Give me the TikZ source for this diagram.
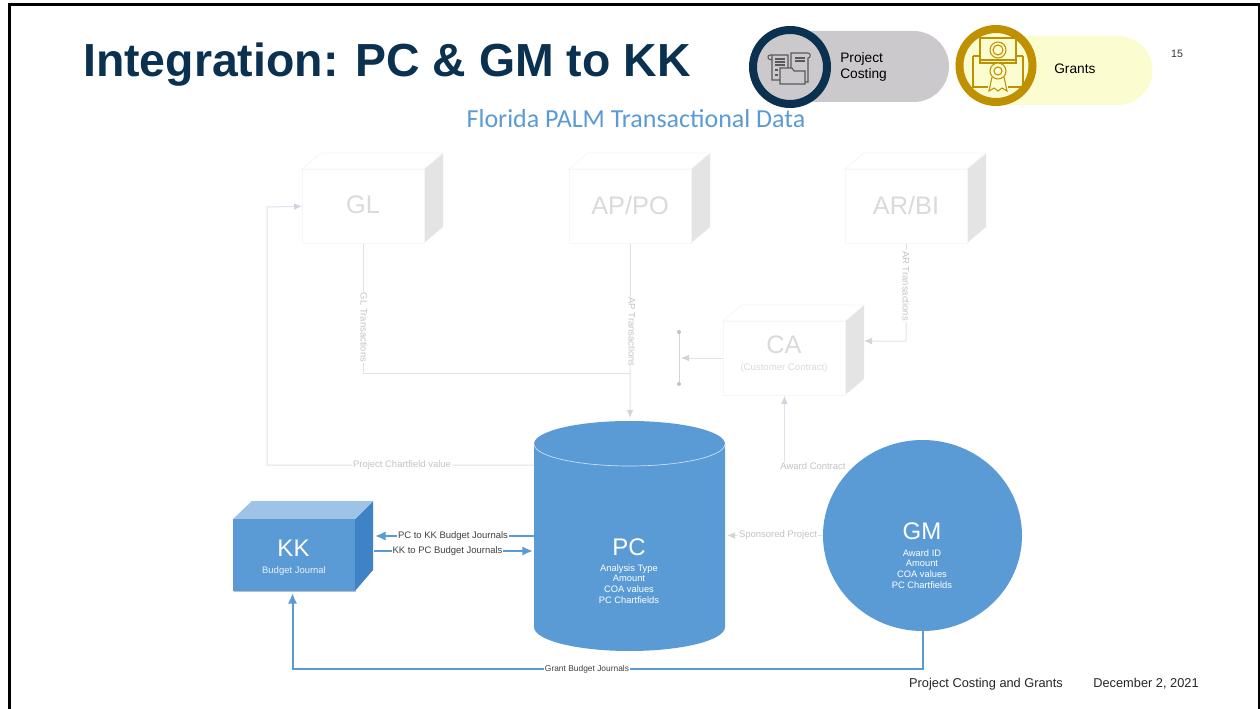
\documentclass[tikz,border=0pt]{standalone}
\usepackage{fontspec}
\setmainfont{Liberation Sans}
\newfontfamily\carl{Carlito}
\usetikzlibrary{arrows.meta,shapes.geometric}
\definecolor{blu}{HTML}{5B9BD5}
\definecolor{bludk}{HTML}{3F83C6}
\definecolor{blult}{HTML}{9DC3E6}
\definecolor{navy}{HTML}{0A3150}
\definecolor{gold}{HTML}{BF9000}
\definecolor{pill}{HTML}{CBC9CB}
\definecolor{pally}{HTML}{FBFCD0}
\definecolor{faintln}{HTML}{DDE3EE}
\definecolor{fainttx}{HTML}{DADADA}
\definecolor{sidegr}{HTML}{E4E4E4}
\definecolor{boxln}{HTML}{F6F6F6}
\definecolor{faintlb}{HTML}{D0D4DC}
\tikzset{
 x=0.75pt,y=-0.75pt,
 faint/.style={draw=faintln,line width=0.75pt},
 faintarr/.style={faint,-{Latex[length=6pt,width=5pt,color=faintlb]}},
 bluearr/.style={draw=blu,line width=1.5pt,-{Latex[length=8pt,width=7pt]}},
 lab/.style={font=\fontsize{7.1pt}{8pt}\selectfont,text=fainttx!90!black,fill=white,inner sep=0.6pt},
 darklab/.style={font=\fontsize{7.1pt}{8pt}\selectfont,text=black!75,fill=white,inner sep=0.6pt},
 wsmall/.style={font=\fontsize{7pt}{8.1pt}\selectfont,text=white,align=center,inner sep=0},
 boxtxt/.style={font=\fontsize{19pt}{21pt}\selectfont,text=fainttx,inner sep=0},
}
% #1 name, #2 left, #3 top, #4 right, #5 bottom (front face), #6 depth
\newcommand{\ghostbox}[6]{%
 \fill[sidegr] (#4,#3) -- (#4+#6,#3-16) -- (#4+#6,#5-16) -- (#4,#5) -- cycle;
 \draw[boxln,line width=0.6pt,fill=white] (#2,#3) -- (#2+#6,#3-16) -- (#4+#6,#3-16) -- (#4,#3) -- cycle;
 \node[draw=boxln,line width=0.6pt,fill=white,minimum width=#4*0.75pt-#2*0.75pt,minimum height=#5*0.75pt-#3*0.75pt,inner sep=0,anchor=north west] (#1) at (#2,#3) {};
}
\begin{document}
\begin{tikzpicture}
\useasboundingbox (0,0) rectangle (1260,709);
\fill[white] (0,0) rectangle (1260,709);
\fill[black] (8,3) rectangle (1260,6.5);
\fill[black] (8,3) rectangle (11,709);
\fill[black] (1258,3) rectangle (1260,709);
% title
\node[anchor=west,inner sep=0,text=navy,font=\bfseries\fontsize{34.8pt}{38pt}\selectfont] (title) at (83,65) {Integration: PC \& GM to KK};
% pills
\fill[pill] (790,31) -- (913.5,31) arc[start angle=90,end angle=-90,radius=26.625pt] -- (790,102) -- cycle;
\node[draw=navy,line width=6pt,fill=pill,circle,minimum size=55.5pt,inner sep=0] (pcc) at (790,67) {};
\node[anchor=west,align=left,inner sep=0,font=\fontsize{10.3pt}{12pt}\selectfont] (pct) at (840,67) {Project\\Costing};
\fill[pally] (1000,36) -- (1118,36) arc[start angle=90,end angle=-90,radius=25.875pt] -- (1000,105) -- cycle;
\node[draw=gold,line width=6pt,fill=pally,circle,minimum size=54.75pt,inner sep=0] (gmc) at (996,65.5) {};
\node[anchor=west,inner sep=0,font=\fontsize{10.3pt}{12pt}\selectfont] (grt) at (1054,68.5) {Grants};
\node[inner sep=0,font=\fontsize{8pt}{10pt}\selectfont,text=black!80] (num) at (1177,54) {15};
% PC icon
\begin{scope}[draw=black!65,line width=0.8pt]
\draw (772,55) -- (772,80) -- (780,80) (772,55) -- (788,55) -- (788,68) (772,55) -- (770,55) .. controls (767,55) and (767,60) .. (772,60);
\draw (791,68) -- (791,53) -- (808,53) .. controls (811,53) and (811,58) .. (808,58) -- (808,82) -- (805,82);
\draw[fill=pill] (780,68) -- (792,68) -- (794,71) -- (805,71) -- (805,84) -- (780,84) -- cycle;
\draw (775,59) -- (785,59) (775,62) -- (785,62) (775,65) -- (785,65) (775,70) -- (778,70) (775,75) -- (778,75);
\draw (795,58) -- (805,58) (795,61) -- (805,61);
\end{scope}
% Grants icon
\begin{scope}[draw=gold,line width=0.8pt]
\draw (980,38) rectangle (1016,63);
\draw (998,50) circle (8);
\draw (998,50) circle (5);
\draw (973,56) -- (973,87) -- (988,87) (1023,56) -- (1023,87) -- (1008,87);
\draw (973,56) -- (980,56) (1016,56) -- (1023,56);
\draw (980,60) -- (1016,60);
\draw[fill=pally] (998,71) circle (8);
\draw (998,71) circle (4);
\draw (992,77) -- (989,91) -- (994,88) -- (998,91) -- (1002,88) -- (1007,91) -- (1004,77);
\end{scope}
% subtitle
\node[inner sep=0,text=blu,font=\carl\fontsize{19.5pt}{22pt}\selectfont] (sub) at (636,119) {Florida PALM Transactional Data};
% ghost boxes
\ghostbox{gl}{302}{169}{424}{243}{19}
\node[boxtxt] at (363,205) {GL};
\ghostbox{ap}{569}{169}{691}{243}{19}
\node[boxtxt] at (630,205) {AP/PO};
\ghostbox{ar}{845}{169}{967}{243}{19}
\node[boxtxt] at (906,205) {AR/BI};
\ghostbox{ca}{723}{321}{845}{395}{19}
\node[boxtxt] at (784,345) {CA};
\node[inner sep=0,font=\fontsize{7.2pt}{8pt}\selectfont,text=fainttx] at (784,368) {(Customer Contract)};
% PC cylinder
\fill[blu] (534,444) arc[start angle=180,end angle=0,x radius=71.625pt,y radius=17.25pt] -- (725,627) arc[start angle=0,end angle=-180,x radius=71.625pt,y radius=18pt] -- cycle;
\draw[white!70!blu,line width=0.5pt] (534,444) arc[start angle=180,end angle=360,x radius=71.625pt,y radius=16.5pt];
\node[inner sep=0,text=white,font=\fontsize{18pt}{20pt}\selectfont] (pcn) at (629,547) {PC};
\node[wsmall] (pcd) at (629,584) {Analysis Type\\Amount\\COA values\\PC Chartfields};
% GM ellipse
\node[ellipse,fill=blu,minimum width=149.25pt,minimum height=143.25pt,inner sep=0] (gm) at (922.5,535.5) {};
\node[inner sep=0,text=white,font=\fontsize{18pt}{20pt}\selectfont] (gmn) at (922,531) {GM};
\node[wsmall] (gmd) at (922,569) {Award ID\\Amount\\COA values\\PC Chartfields};
% KK
\fill[black!25] (234,521) rectangle (356,592);
\fill[bludk] (355,519) -- (373,501) -- (373,570) -- (355,591) -- cycle;
\fill[blult] (233,519) -- (252,501) -- (373,501) -- (355,519) -- cycle;
\node[fill=blu,minimum width=91.5pt,minimum height=54pt,inner sep=0,anchor=north west] (kk) at (233,519) {};
\node[inner sep=0,text=white,font=\fontsize{18pt}{20pt}\selectfont] (kkn) at (293.5,548) {KK};
\node[inner sep=0,text=white!85!blu,font=\fontsize{7.1pt}{8pt}\selectfont] (kkd) at (294,571) {Budget Journal};
% faint connectors
\coordinate (bar1) at (679,332);
\coordinate (bar2) at (679,384);
\draw[faint] (gl.south) -- (gl.south |- 0,373) -- (630,373);
\draw[faintarr] (ap.south) -- (630,418);
\node[lab,rotate=-90] at (364,327.5) {GL Transactions};
\node[lab,rotate=-90] at (632,332) {AP Transactions};
\draw[faintarr] (534,465) -- (267,465) -- (267,207) -- (gl.west);
\node[lab] at (402,465) {Project Chartfield value};
\draw[faintarr] (ar.south) -- (906,341) -- (864,341);
\node[lab,rotate=-90] at (906,286) {AR Transactions};
\draw[faintarr] (ca.west |- 0,358) -- (681,358);
\draw[faintlb,line width=0.75pt] (bar1) -- (bar2);
\fill[faintlb!80!gray] (bar1) circle (2) (bar2) circle (2);
\draw[faintarr] (ca.south |- 0,465) -- (ca.south);
\node[lab] at (813,466) {Award Contract};
\draw[faintarr] (gm.west) -- (727,535.5);
\node[lab] at (778,535.5) {Sponsored Project};
% blue connectors
\draw[bluearr] (534,536) -- (375,536);
\node[darklab] at (453,536) {PC to KK Budget Journals};
\draw[bluearr] (374,551) -- (533,551);
\node[darklab] at (447.5,551) {KK to PC Budget Journals};
\draw[bluearr] (gm.south) -- (922.5,669) -- (292.5,669) -- (292.5,593);
\node[darklab,font=\fontsize{6.3pt}{7pt}\selectfont] at (587,669) {Grant Budget Journals};
% footer
\node[inner sep=0,font=\fontsize{9.6pt}{11pt}\selectfont,text=black!85] (ft1) at (986,684) {Project Costing and Grants};
\node[inner sep=0,font=\fontsize{9.6pt}{11pt}\selectfont,text=black!85] (ft2) at (1146,684) {December 2, 2021};
\end{tikzpicture}
\end{document}
